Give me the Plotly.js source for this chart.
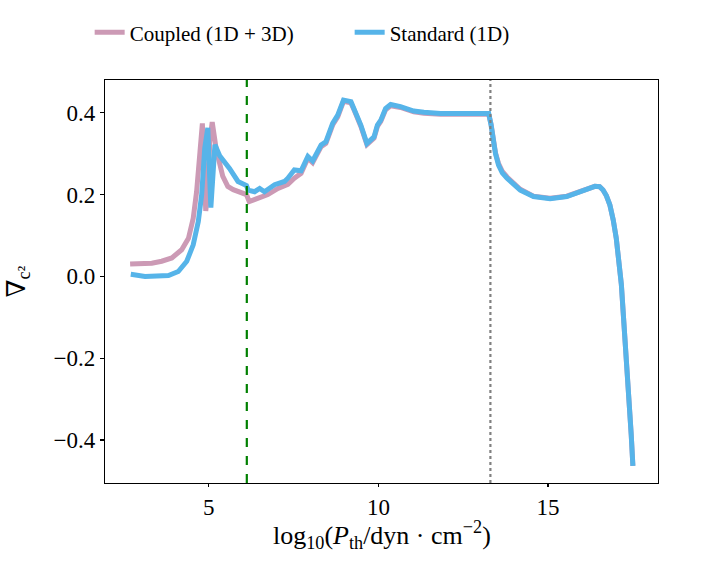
<!DOCTYPE html>
<html>
<head>
<meta charset="utf-8">
<script src="https://cdn.plot.ly/plotly-3.0.1.min.js"></script>
<style>
  html, body { margin: 0; padding: 0; background: #fff; }
  #chart { width: 706px; height: 563px; }
</style>
</head>
<body>
<div id="chart"></div>
<script>
// values
const coupledX = [2.68, 3.32, 3.61, 3.91, 4.20, 4.40, 4.54, 4.64, 4.74, 4.81, 4.86, 4.91, 4.96, 5.03, 5.10, 5.22, 5.41, 5.56,
  5.72, 5.96, 6.11, 6.19, 6.45, 6.74, 7.04, 7.33, 7.52, 7.72, 7.92, 8.06, 8.31, 8.45, 8.65, 8.80, 8.97, 9.19, 9.28,
  9.48, 9.66, 9.77, 9.87, 9.97, 10.07, 10.21, 10.36, 10.65, 11.04, 11.34, 11.83, 12.51, 13.25, 13.32, 13.39, 13.45, 13.54,
  13.65, 13.79, 14.18, 14.57, 15.06, 15.55, 15.94, 16.20, 16.38, 16.52, 16.62, 16.72, 16.82, 16.92, 17.01, 17.16, 17.26, 17.35, 17.45, 17.50];
const coupledY = [0.030, 0.032, 0.037, 0.045, 0.065, 0.093, 0.142, 0.207, 0.305, 0.374, 0.26, 0.160, 0.20, 0.33, 0.377, 0.310, 0.245, 0.220,
  0.212, 0.203, 0.200, 0.183, 0.190, 0.200, 0.215, 0.225, 0.240, 0.252, 0.289, 0.278, 0.317, 0.325, 0.370, 0.390, 0.428, 0.424, 0.407,
  0.367, 0.322, 0.330, 0.338, 0.367, 0.379, 0.407, 0.417, 0.413, 0.402, 0.399, 0.396, 0.396, 0.396, 0.372, 0.333, 0.302, 0.276,
  0.257, 0.243, 0.213, 0.196, 0.191, 0.196, 0.208, 0.215, 0.220, 0.219, 0.211, 0.197, 0.175, 0.138, 0.093, -0.020, -0.134, -0.264, -0.386, -0.463];

const standardX = [2.70, 3.12, 3.81, 4.10, 4.35, 4.54, 4.69, 4.79, 4.88, 4.97, 5.06, 5.18, 5.32, 5.61, 5.86, 6.11, 6.16,
  6.35, 6.50, 6.64, 6.94, 7.23, 7.33, 7.52, 7.72, 7.92, 8.06, 8.31, 8.45, 8.65, 8.80, 8.97, 9.19, 9.28, 9.48, 9.66,
  9.77, 9.87, 9.97, 10.07, 10.21, 10.36, 10.65, 11.04, 11.34, 11.83, 12.51, 13.25, 13.32, 13.39, 13.45, 13.54, 13.65, 13.79, 14.18,
  14.57, 15.06, 15.55, 15.94, 16.20, 16.38, 16.52, 16.62, 16.72, 16.82, 16.92, 17.01, 17.16, 17.26, 17.35, 17.45, 17.50];
const standardY = [0.005, 0.000, 0.002, 0.012, 0.037, 0.077, 0.134, 0.200, 0.313, 0.363, 0.168, 0.322, 0.295, 0.264, 0.232, 0.222, 0.211,
  0.207, 0.215, 0.207, 0.224, 0.232, 0.240, 0.260, 0.258, 0.293, 0.282, 0.321, 0.329, 0.374, 0.394, 0.431, 0.427, 0.410, 0.370, 0.325,
  0.333, 0.341, 0.370, 0.382, 0.410, 0.420, 0.415, 0.404, 0.401, 0.398, 0.398, 0.398, 0.370, 0.329, 0.300, 0.272, 0.253, 0.240, 0.211,
  0.195, 0.190, 0.195, 0.207, 0.215, 0.220, 0.219, 0.211, 0.197, 0.175, 0.138, 0.093, -0.020, -0.134, -0.264, -0.386, -0.463];

const greenLineX = 6.12;
const grayLineX = 13.30;

const font = "'Liberation Serif', 'DejaVu Serif', serif";

const coupled = {
  x: coupledX, y: coupledY, type: 'scatter', mode: 'lines',
  name: 'Coupled (1D + 3D)',
  line: {color: '#cc9ab5', width: 5}
};

const standard = {
  x: standardX, y: standardY, type: 'scatter', mode: 'lines',
  name: 'Standard (1D)',
  line: {color: '#56b4e9', width: 5}
};

const axisStyle = {
  showgrid: false, zeroline: false,
  showline: true, mirror: true, linecolor: '#000', linewidth: 1.2,
  ticks: 'outside', ticklen: 4, tickwidth: 1.2, tickcolor: '#000',
  tickfont: {family: font, size: 23, color: '#000'}
};

const layout = {
  width: 706, height: 563,
  margin: {l: 105, r: 48, t: 80, b: 80},
  paper_bgcolor: '#fff', plot_bgcolor: '#fff',
  font: {family: font, color: '#000'},
  showlegend: true,
  legend: {
    orientation: 'h', xref: 'container', yref: 'container',
    x: 0.127, xanchor: 'left', y: 0.942, yanchor: 'middle',
    font: {family: font, size: 21, color: '#000'},
    entrywidth: 215, entrywidthmode: 'pixels', tracegroupgap: 0
  },
  xaxis: Object.assign({}, axisStyle, {
    range: [1.94, 18.24],
    tickvals: [5, 10, 15],
    ticklen: 3
  }),
  yaxis: Object.assign({}, axisStyle, {
    range: [-0.505, 0.48],
    tickvals: [-0.4, -0.2, 0.0, 0.2, 0.4],
    ticktext: ['−0.4', '−0.2', '0.0', '0.2', '0.4']
  }),
  annotations: [
    {text: 'log<sub>10</sub>(<i>P</i><sub>th</sub>/dyn · cm<sup>−2</sup>)', xref: 'paper', yref: 'paper',
      x: 0.5, y: -0.128, xanchor: 'center', yanchor: 'middle', showarrow: false,
      font: {family: font, size: 26, color: '#000'}},
    {text: '∇<sub>c²</sub>', xref: 'paper', yref: 'paper', textangle: -90,
      x: -0.159, y: 0.5, xanchor: 'center', yanchor: 'middle', showarrow: false,
      font: {family: font, size: 26, color: '#000'}}
  ],
  shapes: [
    {type: 'line', xref: 'x', yref: 'paper', x0: greenLineX, x1: greenLineX, y0: 0, y1: 1,
      line: {color: '#008000', width: 2.2, dash: 'dash'}},
    {type: 'line', xref: 'x', yref: 'paper', x0: grayLineX, x1: grayLineX, y0: 0, y1: 1,
      line: {color: '#808080', width: 2.2, dash: 'dot'}}
  ]
};

Plotly.newPlot('chart', [coupled, standard], layout, {staticPlot: true});
</script>
</body>
</html>
